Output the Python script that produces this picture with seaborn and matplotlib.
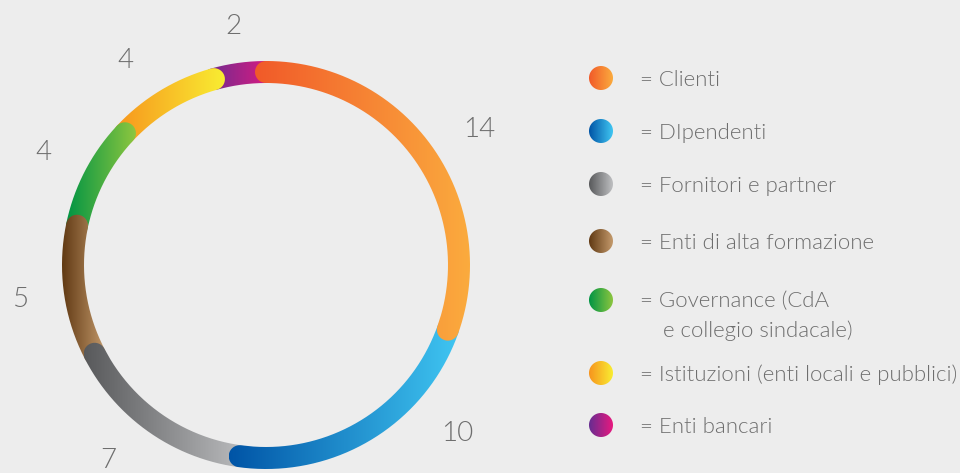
import matplotlib
matplotlib.use("Agg")
import matplotlib.pyplot as plt
import matplotlib.patches as mpatches
from matplotlib.path import Path
from matplotlib.colors import LinearSegmentedColormap
import numpy as np
import seaborn as sns


CATEGORIES = ["Clienti", "DIpendenti", "Fornitori e partner", "Enti di alta formazione",
              "Governance (CdA\ne collegio sindacale)",
              "Istituzioni (enti locali e pubblici)", "Enti bancari"]
VALUES = [14, 10, 7, 5, 4, 4, 2]
DARK = ["#f15a29", "#0054a6", "#58595b", "#603913", "#009444", "#f7941d", "#662d91"]
LIGHT = ["#fbab3e", "#40c6f2", "#bfc0c2", "#c49a6c", "#8dc63f", "#f9ed32", "#e8197f"]

BG = "#ededed"
TXT = "#6e6e6e"

# ring geometry, in pixels (axes spans the whole figure)
CX, CY, R, W = 266, 265, 193, 22
LABEL_R = [254, 253, 249, 248, 251, 250, 243]
LABEL_SHIFT = [2.4, -17.7, 4, 0.4, 0, -2.8, 0]   # nudges of the value labels (degrees)
LEG_Y = [78, 131, 184, 241, 300, 373, 425]


def ring_piece(a0, a1, n=240):
    """Outline of a thick arc with round caps, angles clockwise from top."""
    t = np.radians(np.linspace(a0, a1, n))
    ro, ri = R + W / 2, R - W / 2
    outer = np.c_[CX + ro * np.sin(t), CY - ro * np.cos(t)]
    inner = np.c_[CX + ri * np.sin(t[::-1]), CY - ri * np.cos(t[::-1])]
    s = np.linspace(0, np.pi, 60)[:, None]
    e = np.radians(a1)
    rad, tan = np.array([np.sin(e), -np.cos(e)]), np.array([np.cos(e), np.sin(e)])
    c1 = np.array([CX, CY]) + R * rad
    cap1 = c1 + W / 2 * (np.cos(s) * rad + np.sin(s) * tan)
    b = np.radians(a0)
    rad, tan = np.array([np.sin(b), -np.cos(b)]), np.array([np.cos(b), np.sin(b)])
    c0 = np.array([CX, CY]) + R * rad
    cap0 = c0 + W / 2 * (-np.cos(s) * rad - np.sin(s) * tan)
    return np.vstack([outer, cap1, inner, cap0])


def gradient_fill(ax, verts, c0, c1, zorder):
    patch = mpatches.PathPatch(Path(verts), facecolor="none", edgecolor="none")
    ax.add_patch(patch)
    x0, y0 = verts.min(0)
    x1, y1 = verts.max(0)
    cmap = LinearSegmentedColormap.from_list("g", [c0, c1])
    im = ax.imshow(np.linspace(0, 1, 256)[None, :], cmap=cmap,
                   extent=[x0, x1, y1, y0], aspect="auto",
                   interpolation="bilinear", zorder=zorder)
    im.set_clip_path(patch)


sns.set_theme(style="white", rc={"figure.facecolor": BG, "axes.facecolor": BG})
plt.rcParams["font.family"] = ["Lato", "DejaVu Sans"]

fig = plt.figure(figsize=(9.6, 4.73), dpi=100)
ax = fig.add_axes([0, 0, 1, 1])

total = sum(VALUES)
ends = np.cumsum(VALUES) / total * 360
starts = ends - np.array(VALUES) / total * 360

# drawn last-to-first so each piece's cap sits on the next one
for i in reversed(range(len(VALUES))):
    verts = ring_piece(starts[i], ends[i])
    gradient_fill(ax, verts, DARK[i], LIGHT[i], zorder=2 + (len(VALUES) - i))

for i, v in enumerate(VALUES):
    a = np.radians((starts[i] + ends[i]) / 2 + LABEL_SHIFT[i])
    ax.text(CX + LABEL_R[i] * np.sin(a), CY - LABEL_R[i] * np.cos(a) + 10, str(v),
            ha="center", va="baseline", fontsize=20, fontweight=300, color=TXT)

# legend
for i, name in enumerate(CATEGORIES):
    t = np.linspace(0, 2 * np.pi, 100)
    circ = np.c_[601 + 12 * np.cos(t), LEG_Y[i] + 12 * np.sin(t)]
    gradient_fill(ax, circ, DARK[i], LIGHT[i], zorder=3)
    for k, line in enumerate(name.split("\n")):
        if k == 0:
            ax.text(640, LEG_Y[i] + 7.5, "= " + line,
                    ha="left", va="baseline", fontsize=16, fontweight=300, color=TXT)
        else:
            ax.text(663, LEG_Y[i] + 7.5 + 29 * k, line,
                    ha="left", va="baseline", fontsize=16, fontweight=300, color=TXT)

ax.set_xlim(0, 960)
ax.set_ylim(473, 0)
ax.set_aspect("equal")
ax.axis("off")

plt.savefig("out.png", dpi=100, facecolor=BG)
plt.close()
